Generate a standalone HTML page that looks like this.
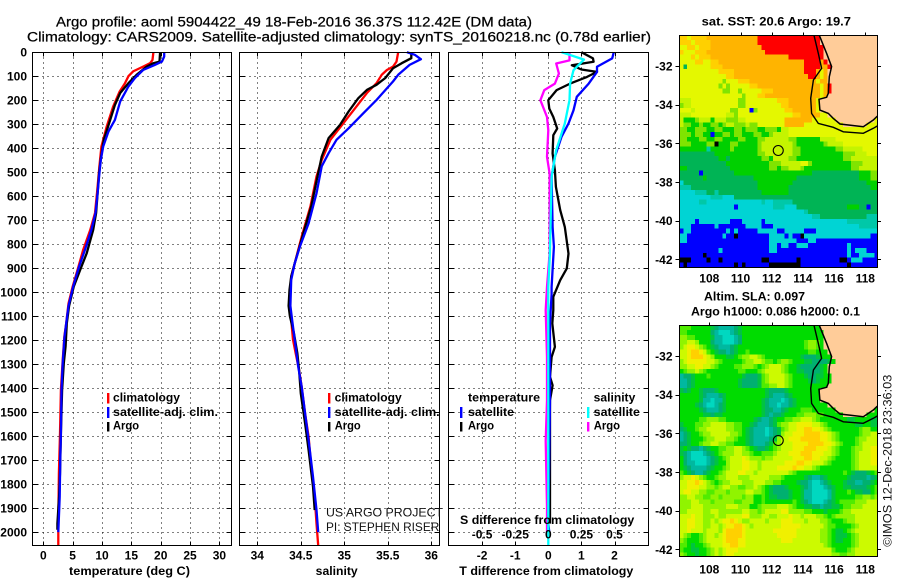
<!DOCTYPE html>
<html>
<head>
<meta charset="utf-8">
<title>Argo profile</title>
<style>
html,body{margin:0;padding:0;background:#fff;}
#chart{display:block;width:900px;height:580px;font-family:"Liberation Sans",sans-serif;}
.b{font-weight:bold;font-size:12px;fill:#000;}
.t{font-size:13.5px;fill:#000;stroke:#000;stroke-width:.25;}
.n{font-size:12px;fill:#111;}
</style>
</head>
<body>
<svg id="chart" xmlns="http://www.w3.org/2000/svg" width="900" height="580" viewBox="0 0 900 580">
<rect x="0" y="0" width="900" height="580" fill="#fff"/>
<defs>
<clipPath id="clipMap1"><rect x="679.3" y="35.3" width="198" height="232"/></clipPath>
<clipPath id="clipMap2"><rect x="679.3" y="325.3" width="198" height="231.4"/></clipPath>
</defs>
<g id="layer"></g>
<g>
<text class="t" x="56" y="26.7" textLength="476" lengthAdjust="spacingAndGlyphs">Argo profile: aoml 5904422_49 18-Feb-2016 36.37S 112.42E (DM data)</text>
<text class="t" x="27" y="41.7" textLength="624" lengthAdjust="spacingAndGlyphs">Climatology: CARS2009. Satellite-adjusted climatology: synTS_20160218.nc (0.78d earlier)</text>
<text class="b" x="701.7" y="25.7" textLength="149.3" lengthAdjust="spacingAndGlyphs">sat. SST: 20.6 Argo: 19.7</text>
<text class="b" x="704" y="300.7" textLength="101" lengthAdjust="spacingAndGlyphs">Altim. SLA: 0.097</text>
<text class="b" x="691" y="315.7" textLength="169" lengthAdjust="spacingAndGlyphs">Argo h1000: 0.086 h2000: 0.1</text>
</g>
<g>
<text class="b" x="69" y="575" textLength="121" lengthAdjust="spacingAndGlyphs">temperature (deg C)</text>
<text class="b" x="315.7" y="575" textLength="42" lengthAdjust="spacingAndGlyphs">salinity</text>
<text class="b" x="459.3" y="575" textLength="174" lengthAdjust="spacingAndGlyphs">T difference from climatology</text>
<text class="b" x="460" y="524" textLength="174.3" lengthAdjust="spacingAndGlyphs">S difference from climatology</text>
</g>
<g>
<rect x="107" y="393" width="2.4" height="10.5" fill="#f00"/>
<rect x="107" y="407" width="2.4" height="11" fill="#00f"/>
<rect x="107" y="422" width="2.4" height="9.5" fill="#000"/>
<text class="b" x="113" y="401.7" textLength="67" lengthAdjust="spacingAndGlyphs">climatology</text>
<text class="b" x="113" y="416" textLength="105" lengthAdjust="spacingAndGlyphs">satellite-adj. clim.</text>
<text class="b" x="113" y="429.3" textLength="26" lengthAdjust="spacingAndGlyphs">Argo</text>
</g>
<g>
<rect x="328" y="393" width="2.4" height="10.5" fill="#f00"/>
<rect x="328" y="407" width="2.4" height="11" fill="#00f"/>
<rect x="328" y="422" width="2.4" height="9.5" fill="#000"/>
<text class="b" x="334.7" y="401.7" textLength="67" lengthAdjust="spacingAndGlyphs">climatology</text>
<text class="b" x="334.7" y="416" textLength="105" lengthAdjust="spacingAndGlyphs">satellite-adj. clim.</text>
<text class="b" x="334.7" y="429.3" textLength="26" lengthAdjust="spacingAndGlyphs">Argo</text>
<text class="n" x="326" y="516.7" textLength="117" lengthAdjust="spacingAndGlyphs">US ARGO PROJECT</text>
<text class="n" x="326" y="531" textLength="113.3" lengthAdjust="spacingAndGlyphs">PI: STEPHEN RISER</text>
</g>
<g>
<text class="b" x="468" y="401.7" textLength="72" lengthAdjust="spacingAndGlyphs">temperature</text>
<rect x="460" y="407" width="2.4" height="11" fill="#00f"/>
<text class="b" x="468" y="416" textLength="46" lengthAdjust="spacingAndGlyphs">satellite</text>
<rect x="460" y="422" width="2.4" height="9.5" fill="#000"/>
<text class="b" x="468" y="429.3" textLength="26" lengthAdjust="spacingAndGlyphs">Argo</text>
<text class="b" x="593.7" y="401.7" textLength="41.6" lengthAdjust="spacingAndGlyphs">salinity</text>
<rect x="587" y="407" width="2.4" height="11" fill="#0ff"/>
<text class="b" x="593.7" y="416" textLength="46.3" lengthAdjust="spacingAndGlyphs">satellite</text>
<rect x="587" y="422" width="2.4" height="9.5" fill="#f0f"/>
<text class="b" x="593.7" y="429.3" textLength="26.3" lengthAdjust="spacingAndGlyphs">Argo</text>
</g>
<text class="n" transform="translate(891.5,546.7) rotate(-90)" x="0" y="0" textLength="172" lengthAdjust="spacingAndGlyphs">©IMOS 12-Dec-2018 23:36:03</text>
</svg>
<script>
// ---- profile data ----
const depthTickLabels = [0,100,200,300,400,500,600,700,800,900,1000,1100,1200,1300,1400,1500,1600,1700,1800,1900,2000];
const tempTickLabels = [0,5,10,15,20,25,30];
const salTickLabels = ['34','34.5','35','35.5','36'];
const tDiffTickLabels = ['-2','-1','0','1','2'];
const sDiffTickLabels = ['-0.5','-0.25','0','0.25','0.5'];
const lonTickLabels = [108,110,112,114,116,118];
const latTickLabels = [-32,-34,-36,-38,-40,-42];

const tempClimDepth = [0,32,46,60,80,100,130,164,226,310,393,476,574,670,740,823,893,976,1047,1130,1183,1283,1408,1589,1755,1964,2055];
const tempClimValues = [18.75,18.6,18.2,17,15.3,14.5,13.9,13,11.9,10.8,9.9,9.55,9.2,8.8,8,6.8,6,5,4.3,3.9,3.6,3.3,3.0,2.85,2.65,2.55,2.55];
const tempArgoDepth = [0,39,46,60,94,129,170,220,282,365,435,504,588,670,740,838,893,976,1057,1130,1225,1296,1408,1589,1755,1850,1964,1990];
const tempArgoValues = [19.9,19.8,18.75,17.6,15.9,14.5,13.1,12.2,11.4,10.3,9.85,9.5,9.25,9,8.5,7.4,6.5,5.2,4.4,4,3.8,3.5,3.2,3,2.85,2.7,2.4,2.4];
const tempSatDepth = [0,18,39,53,74,108,143,205,282,330,393,449,504,588,670,740,823,893,976,1057,1130,1190,1296,1408,1589,1686,1852,2000];
const tempSatValues = [20.6,20.6,20.2,19,17,15.6,14.5,13.1,12.2,11.1,10.2,9.8,9.55,9.25,8.9,8.2,7.1,6.1,5.1,4.3,3.9,3.6,3.3,3.1,3,2.9,2.8,2.55];

const salClimDepth = [0,39,60,74,94,129,170,226,296,365,449,518,643,768,880,935,990,1057,1115,1198,1253,1325,1394,1505,1602,1727,1852,1964,2055];
const salClimValues = [35.62,35.6,35.56,35.49,35.43,35.37,35.26,35.14,34.99,34.84,34.74,34.68,34.61,34.51,34.43,34.39,34.38,34.375,34.39,34.41,34.44,34.48,34.51,34.55,34.59,34.62,34.66,34.68,34.7];
const salArgoDepth = [0,25,46,67,108,136,157,192,247,303,358,435,504,643,754,880,935,990,1057,1100,1168,1253,1325,1422,1547,1658,1810,1908];
const salArgoValues = [35.77,35.77,35.66,35.56,35.47,35.37,35.26,35.16,35.05,34.95,34.82,34.74,34.7,34.62,34.53,34.43,34.39,34.37,34.36,34.375,34.42,34.46,34.48,34.5,34.55,34.59,34.64,34.66];
const salSatDepth = [0,11,29,53,94,122,199,254,317,365,421,476,588,713,810,880,949,1057,1115,1198,1310,1394,1505,1616,1769,1908,2000];
const salSatValues = [35.72,35.81,35.88,35.75,35.62,35.56,35.37,35.22,35.05,34.91,34.82,34.74,34.68,34.59,34.49,34.43,34.39,34.38,34.4,34.43,34.47,34.51,34.55,34.59,34.64,34.68,34.7];

const diffTArgoDepth = [0,26,40,54,72,82,103,131,158,200,235,270,318,346,422,492,561,658,728,839,901,950,1019,1075,1130,1228,1270,1353,1388,1450,1811,1964];
const diffTArgoValues = [1.0,1.35,1.37,0.71,1.0,1.47,1.17,0.66,0.25,0,0.03,0.15,0.27,0.15,0.13,0.2,0.23,0.36,0.5,0.61,0.56,0.36,0.15,0.15,0.12,0.2,0.1,0.05,0.13,0.05,0.05,0.05];
const diffTSatDepth = [0,26,61,82,131,186,242,297,353,436,519,728,811,978,1008,1130,1450,1964,2000];
const diffTSatValues = [1.98,1.93,1.47,1.47,1.22,0.86,0.76,0.61,0.4,0.2,0.1,0.13,0.17,0.1,0.1,0.05,0.05,0,0.03];
const diffSSatDepth = [0,31,75,131,200,297,408,519,839,978,1964,2055];
const diffSSatValues = [0.1,0.27,0.19,0.165,0.16,0.125,0.06,0.025,0.012,0,0,0];
const diffSArgoDepth = [0,34,47,89,131,158,200,270,325,436,505,839,978,1075,1270,1450,1620,1894,2000];
const diffSArgoValues = [0.16,0.16,0.06,0.08,0.05,-0.03,-0.06,-0.01,0,-0.01,0.01,0.01,-0.01,-0.02,-0.01,-0.01,-0.02,-0.01,-0.01];

// ---- map data: run-length rows of 0.25 degree cells, north to south ----
const sstRows = [
"a2y1a4o13r16.15","a3y1a4o12r16.15","y2a2y1a3o13r16.14","a1y3a3o15r15.14","y3a1y1a3o20r9.14",
"y4a2y2a2o22r4o1r1.13","y1d1y6a3o21r4o2r1.12","y10a4o18r3o1y1o1.13","y12a2o19r2o1y1o1.13","y11m1y3a3o17y1o2.13",
"y10m1y1m1y5a2o16y1o1r1.12","y11m2y2m1y5a3o12y1o1r1.12","y16m1y3a2o14y1o1.13","l3y12m2y8a3o7y1.15","m1l2y12m2y9a2o7y1.15",
"y3l1y9m2y3b1m1y7a2o6y1.15","l3y9l2m1y9y5a2o5y2.13","l1g3m1l3g1l3m1m2l2y10o7y6.10y1","l1m2g2m1g2m2g1m1l2m3l1m2y7o5y10.6y3","m2g2m3g2m2g3m2g1m3g2m3g1l2y23",
"m3g1m2g2b1g2m2g1m2g3m2g2m1l4y23","m2g3m2g2m2g4m2g3m2l6m2g6l4y11","m3g4m2k1g3m2g5m1l8m1g7m1l4y9","g7t1g5m1g6m1l8m2g9m2l5y4","d9g11m2l7m2g11m3l3y3",
"d10g2d1g8m2g1l4m2g12m2l7","d12g11m3l2l3y2m1g10m3l4","g2d11g10m2g1m2l3m1g12m2l5","d5b1d8g14g6d12g3m2","d6g1d12g9g2d16g3m2",
"c1d19g9d19g3","t3d17g8d21g2","c4t3d2t1d11g7d23","c8t3c3d37","c5t2c14t1c2t1t4d22",
"c14b1c9t3c3d10d3g3d2b1d2","c32t1d18","c34t2d12t3","c4b1c8b3c5b1c21t8","c3b6c1b7c4b3c22t5",
"b1c2b9c1b1c1b5c5b2c5b3c16","c2b9c1b2k1b8c4b1c1b2k1c17b2","c2b21c7b3c2b16","b23c2b1c2b2c3b10c1b7","b10c1b12c2b18c1b1c3b3",
"b6k1b36c1b2c4b1","k3b4k1b2k1b10k2b7k1b10k2b1c3b4","b1k1b12k1b1k1b6k8b12k1b7"
];
const slaRows = [
"n3g5e1d1t4d1e1g20.15","n2g6d1t1c3t1d1e1g21.15","m2n2g4e1t2c3t1d1g21.14","m2l2m1g3d1t2c3t1d1g16n1m2n1g1.14","m1l1y2l1m1n1g1e1d1t3d1e1g1g16n1m2n1g1.14",
"l2y1a2y1l1n1g1e1d2t1d1e1g2n1g15n2g3.13","l2y1a3y1l1m1g3e2g1n1m2l2m1n1g9e1d3e1g3.12","m1l1y5l2m1n1g5n1m2l2m1n2g1n1m2n1g3e2d4e1g1.13","m2l2y2l2m1n1g4n2m3n1g1n1m1l3m1n1g2e1d5e1g1.13","g1n1m2l1m1n1g8n2g3n1m1l4m1n1g2e2d4e1g1.13",
"t1d2e1g3n1g8e1d3e1n1m1l4m1n1g3e1d2e2g2.12","t2d1e1g11e1d4e1n1m1l4m1n1g4e1d1e1g3.12","t2d1e1g11e1d4e1n2m2l2m1n1g9.13","e1d1e1g2e1d3e1g12e1d4e1g8.15","g5e1d1t3d1e1g10e1d1t3d1e1g7.15",
"g5e1t2c1t2e1g9e1d1t3c1t1d1e1g6.15","g4e1d1t1c2t1d1e1g9e1d1t2c1t2d1e1g8.13","g5e1d1t3d1e1g9e1d2t2d1e1g3n3g6.10g1","g6e2d1e2g10e1d1t1d2e1g3n2m3n2g5.6g3","g5n2m3n2g7e1d1t2d1e1g2n2m2l3m1n1g7e2g4e2",
"e1g3n2m2l4m2n2g2e1d1t3d1e1n1m2l2y4l2m1n1g7e2g2e2","d1e1g2n1m2l5m2n2g1e1d1t3c1t1d1e1n1m1l2y2a2y2l1m1n1g7n1m2g2","t1d1e1g2n1m2l5m2n1g1e1d1t3c1t1d1e1m1l2y3a4y2l1m1n1g5n1m2l2","t1d1e1g3n1m2l3m2n1g2e1d1t4d1e1m1l2y3a5y2l1m1n1g4n1m2l3","d2e1g2n1m2l2m2n2g2g1e1d1t3d1e1n1m1l3y4a4y2l1m1n1g3n1m1l4",
"e1g1e1d2t1d1e1g2n2m2l2m1n1g1e1d2e1g1n1m1l3y3a3y3l1m1n1g3n1m2l2y2","e1d1t1c3t1d1e1g1n1m3l2m2n1g2n3m1l3y3a3y3l2m1n1g3n1m1l3y2","g1d1t1c4t1d1e1g1n1m1l3y1l1m1m2n1m2l5y3a2y2l2m1n1g4n1m1l3y2","g1d1t2c3t1d1e1g2m1l3y2l2m1l3l3y3a2y2l3m1n1g5n1m1l3y2","g1e1d1t4d1e1g2n1m1l3y2l2m1l4y4a1y2l2m1n1g8n1m1l5",
"n1g1e1d1t2d1e1g2n1m1l3y2l2m1l5l3m1n1g12n1g1e1d3e1g1n1","m1l2y1l1m1n1g2n1m2l3m3l5m3n1g5e1d1t2d1e1g5e1d4t1d1e1","l2y2a1y1l1m1n1g1n1m2l3m3l3m2n2g4e1d2t1c2t1d1e1g3e1d2t2d2e1g1","l2y3l2m2n1m1l2m2n2m2l1m1n1g1e1d3e1g2g1e1d1t1c3t1d1e1g2e2d4e1g1n1","l1y2l2m2n2m3n1m1m3l2m2n1g1e1d4e1g1g1e1t2c4t1e1g3n1g1e2d2g1n1",
"m2l2m2n2m2n1m3m2n1m2g2n1g1e2d3e1g1g1e1t2c4t1e1g5n2m2n1m1","m3l2m3n1m3m2n2m3g2n1g7n1g1e1d1t1c3t1d1e1g1n4m3l3","m3l3m6l3m3g2n1m4l3m1n1g1g1e2d2t1d2e2g1n2m3l4","m2l4m2l2m6l2m2n1m1l4y2m2m2n2g3e1g3n1m2l7","l3y1l2m3l1m2l4y2m3l2m2l3y1l2m1l3m2n1g1n1m2m3l6",
"l2y2l2m2l1m1l1y2a1y1l1m2l4m1l3y3l3m1l3m2n1g3n1m2l6","l2y2l2m2l2m1l1y2a2y1l1m1l5l2y5l3l3m1n2g4n1m1l6","l2y1l3m1l3m1y1a4y1l6l1y6l2l4m2n1g1e2g1n1m1l6","l1m1n1g2n1m1l2m1l1y1a4y1l6l2y5l2l4m2n1g1e3g1n1m1l5","m1n1g3n1m1l3l1y1a3y2l6l3y3l3l4m2n1g1e2g2n1m1l5",
"n2g1e1g2n1m1l2l1y2a2y2l7l8l5m1n1g5n1m1l5","n1g2e2g2n1m1l1m1l1y3l2l15l7n1g3n1m1l6","m1n1g2e1g2n1m1l1m1l1y2l3l22m2n2m1m1l6"
];
const sstColors = {r:'#ff0000',o:'#ffb400',a:'#ffd000',y:'#e4f800',l:'#c4f400',m:'#80e400',g:'#00d000',d:'#00b455',t:'#00c8a8',c:'#00d4d4',b:'#0000ff',k:'#000000','.':'#ffcc99'};
const slaColors = {c:'#00d8c0',t:'#00b8a0',d:'#00b070',e:'#00c440',g:'#00dc00',n:'#50ec00',m:'#90f400',l:'#ccfa00',y:'#f0f000',a:'#ffd000','.':'#ffcc99'};
const coastLon = [115.05,115.52,115.84,115.69,115.63,115.52,115.03,115.09,115.63,115.95,116.38,117.87,118.51,118.77];
const coastLat = [-30.41,-31.34,-32.03,-32.55,-33.41,-33.62,-33.72,-34.28,-34.45,-34.71,-35.0,-35.14,-34.79,-34.59];
const contourLon = [114.71,114.99,115.2,114.67,114.5,114.56,114.99,115.95,116.59,117.87,118.51,118.77];
const contourLat = [-30.41,-31.34,-32.12,-32.72,-33.67,-34.45,-34.97,-35.17,-35.4,-35.48,-35.22,-35.1];
const floatLon = 112.42;
const floatLat = -36.37;

// ---- axis functions ----
const NS = 'http://www.w3.org/2000/svg';
const layer = document.getElementById('layer');
const depthY = d => 52.2 + d * 0.24;
const tempX = t => 43.3 + t * 5.87;
const salX = s => 257.3 + (s - 34) * 87;
const tDiffX = t => 548.3 + t * 33.1;
const sDiffX = s => 548.3 + s * 132.4;
const lonX = lon => 709.3 + (lon - 108) * 15.6;
const latY = (lat, top) => top + (-30.41 - lat) * 19.33;
const snap = v => Math.round(v) + 0.5;

function make(tag, attrs, parent) {
  const el = document.createElementNS(NS, tag);
  for (const k in attrs) el.setAttribute(k, attrs[k]);
  (parent || layer).appendChild(el);
  return el;
}
function grid(left, right, top, bottom, xs, ys, name) {
  const g = make('g', {});
  
  
  xs.forEach(x => {
    const px = snap(x);
    const l = make('line', {x1: px, x2: px, y1: top, y2: bottom, stroke: '#000', 'stroke-width': 1, 'stroke-dasharray': '1 4', 'shape-rendering': 'crispEdges'}, g);
    
    
    [[top, top + 4], [bottom - 4, bottom]].forEach(([a, b]) => {
      const tick = make('line', {x1: px, x2: px, y1: a, y2: b, stroke: '#000', 'stroke-width': 1, 'shape-rendering': 'crispEdges'}, g);
      
      
    });
  });
  ys.forEach(y => {
    const py = snap(y);
    const l = make('line', {x1: left, x2: right, y1: py, y2: py, stroke: '#000', 'stroke-width': 1, 'stroke-dasharray': '1 4', 'shape-rendering': 'crispEdges'}, g);
    
    
    [[left, left + 5], [right - 5, right]].forEach(([a, b]) => {
      const tick = make('line', {x1: a, x2: b, y1: py, y2: py, stroke: '#000', 'stroke-width': 1, 'shape-rendering': 'crispEdges'}, g);
      
      
    });
  });
}
function series(depths, values, xf, color, name) {
  const pts = depths.map((d, i) => xf(values[i]).toFixed(1) + ',' + depthY(d).toFixed(1)).join(' ');
  const p = make('polyline', {points: pts, fill: 'none', stroke: color, 'stroke-width': 2.3, 'stroke-linejoin': 'round'});
  
  
}
function frame(x, y, w, h, name) {
  const r = make('rect', {x: x, y: y, width: w, height: h, fill: 'none', stroke: '#000', 'stroke-width': 1, 'shape-rendering': 'crispEdges'});
  
  
}
function label(x, y, str, anchor, name) {
  const t = make('text', {x: x, y: y, 'text-anchor': anchor, class: 'b'});
  t.textContent = str;
  
  
}

const depthTicksY = depthTickLabels.map(depthY);
grid(32.5, 231.5, 52.5, 545.5, tempTickLabels.map(tempX), depthTicksY, 'temperature-grid');
grid(239.5, 439.5, 52.5, 545.5, salTickLabels.map(v => salX(+v)), depthTicksY, 'salinity-grid');
grid(448.5, 648.5, 52.5, 545.5, tDiffTickLabels.map(v => tDiffX(+v)), depthTicksY, 'difference-grid');

series(tempClimDepth, tempClimValues, tempX, '#ff0000', 'temperature-climatology-line');
series(tempArgoDepth, tempArgoValues, tempX, '#000000', 'temperature-argo-line');
series(tempSatDepth, tempSatValues, tempX, '#0000ff', 'temperature-satellite-line');
series(salClimDepth, salClimValues, salX, '#ff0000', 'salinity-climatology-line');
series(salArgoDepth, salArgoValues, salX, '#000000', 'salinity-argo-line');
series(salSatDepth, salSatValues, salX, '#0000ff', 'salinity-satellite-line');
series(diffSArgoDepth, diffSArgoValues, sDiffX, '#ff00ff', 'salinity-diff-argo-line');
series(diffTArgoDepth, diffTArgoValues, tDiffX, '#000000', 'temperature-diff-argo-line');
series(diffTSatDepth, diffTSatValues, tDiffX, '#0000ff', 'temperature-diff-satellite-line');
series(diffSSatDepth, diffSSatValues, sDiffX, '#00ffff', 'salinity-diff-satellite-line');

frame(32.5, 52.5, 199, 493, 'temperature-plot-frame');
frame(239.5, 52.5, 200, 493, 'salinity-plot-frame');
frame(448.5, 52.5, 200, 493, 'difference-plot-frame');

depthTickLabels.forEach(d => {
  label(27, depthY(d) + 4.5, String(d), 'end', 'depth-tick-label');
});
tempTickLabels.forEach(t => {
  label(tempX(t), 559.3, String(t), 'middle', 'temperature-tick-label');
});
salTickLabels.forEach(s => {
  label(salX(+s), 559.3, s, 'middle', 'salinity-tick-label');
});
tDiffTickLabels.forEach(t => {
  label(tDiffX(+t), 559.3, t, 'middle', 't-difference-tick-label');
});
sDiffTickLabels.forEach(s => {
  label(sDiffX(+s), 538.3, s, 'middle', 's-difference-tick-label');
});

function drawMap(rows, colors, top, height, clipId, name) {
  const g = make('g', {'clip-path': 'url(#' + clipId + ')'});
  
  
  rows.forEach((row, r) => {
    let col = 0;
    const runs = row.match(/[a-z.]\d+/g) || [];
    runs.forEach(run => {
      const code = run[0];
      const n = parseInt(run.slice(1), 10);
      for (let i = 0; i < n; i++) {
        const lon = 106.08 + 0.25 * col;
        const lat = -30.41 - 0.25 * r;
        const cell = make('rect', {
          x: lonX(lon).toFixed(2), y: latY(lat, top).toFixed(2),
          width: 3.95, height: 4.88, fill: colors[code], 'shape-rendering': 'crispEdges'
        }, g);
        
        
        col++;
      }
    });
  });
  const toPts = (lons, lats) => lons.map((l, i) => lonX(l).toFixed(1) + ',' + latY(lats[i], top).toFixed(1)).join(' ');
  const coast = make('polyline', {points: toPts(coastLon, coastLat), fill: 'none', stroke: '#000', 'stroke-width': 1.5}, g);
  
  
  const contour = make('polyline', {points: toPts(contourLon, contourLat), fill: 'none', stroke: '#000', 'stroke-width': 1.4}, g);
  
  
  const marker = make('circle', {cx: lonX(floatLon), cy: latY(floatLat, top), r: 5, fill: 'none', stroke: '#000', 'stroke-width': 1.1}, g);
  
  
  frame(679.5, Math.round(top) + 0.5, 198, Math.round(height), name + '-frame');
  lonTickLabels.forEach(lon => {
    const px = snap(lonX(lon));
    const t = make('line', {x1: px, x2: px, y1: top - 3, y2: top, stroke: '#000', 'stroke-width': 1, 'shape-rendering': 'crispEdges'});
    
    
  });
  latTickLabels.forEach(lat => {
    const py = snap(latY(lat, top));
    const t = make('line', {x1: 675.5, x2: 679.3, y1: py, y2: py, stroke: '#000', 'stroke-width': 1, 'shape-rendering': 'crispEdges'});
    
    
    const tr = make('line', {x1: 877.5, x2: 881, y1: py, y2: py, stroke: '#000', 'stroke-width': 1, 'shape-rendering': 'crispEdges'});
    
    
    label(672.5, latY(lat, top) + 4.5, String(lat), 'end', 'latitude-tick-label');
  });
}
drawMap(sstRows, sstColors, 35.3, 232, 'clipMap1', 'sst-map');
drawMap(slaRows, slaColors, 325.3, 231.4, 'clipMap2', 'sla-map');
lonTickLabels.forEach(lon => {
  label(lonX(lon), 282.7, String(lon), 'middle', 'sst-longitude-tick-label');
  label(lonX(lon), 573.3, String(lon), 'middle', 'sla-longitude-tick-label');
});
</script>
</body>
</html>
